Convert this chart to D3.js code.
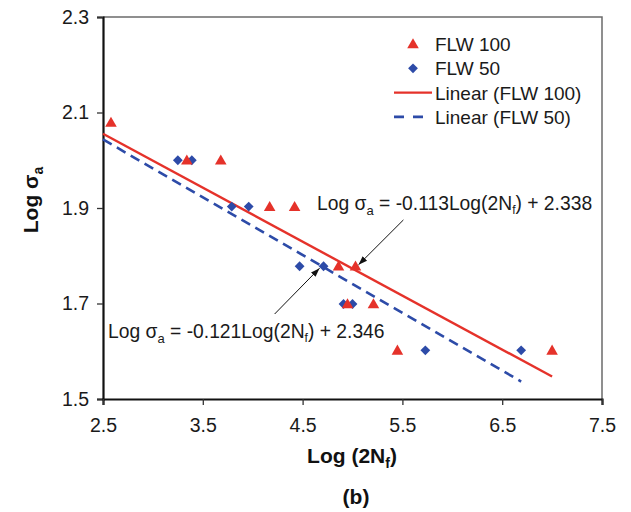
<!DOCTYPE html>
<html>
<head>
<meta charset="utf-8">
<script src="https://cdn.jsdelivr.net/npm/d3@7"></script>
<style>
    body { margin: 0; background: #fff; }
    svg  { display: block; font-family: "Liberation Sans", Arial, sans-serif; }
</style>
</head>
<body>
<div id="chart"></div>
<script>
/* --------------------------------------------------------- */
/* Data.                               */
/* --------------------------------------------------------- */
var flw100X = [2.58, 3.34, 3.68, 4.17, 4.42, 4.86, 5.03, 4.95, 5.21, 5.45, 7.00];
var flw100Y = [2.079, 2.000, 2.000, 1.903, 1.903, 1.778, 1.778, 1.699, 1.699, 1.602, 1.602];

var flw50X  = [3.25, 3.39, 3.79, 3.96, 4.47, 4.71, 4.91, 5.00, 5.73, 6.69];
var flw50Y  = [2.000, 2.000, 1.903, 1.903, 1.778, 1.778, 1.699, 1.699, 1.602, 1.602];

// Linear fits: [slope, intercept], drawn between [xStart, xEnd].
var fit100      = [-0.113, 2.338];
var fit50       = [-0.121, 2.346];
var fit100Range = [2.5, 7.0];
var fit50Range  = [2.5, 6.69];

var xTicks = [2.5, 3.5, 4.5, 5.5, 6.5, 7.5];
var yTicks = [1.5, 1.7, 1.9, 2.1, 2.3];

var legendLabels = ["FLW 100", "FLW 50", "Linear (FLW 100)", "Linear (FLW 50)"];

var red  = "#e5322a";
var blue = "#2d4ba8";

/* --------------------------------------------------------- */
/* Frame and scales.                                         */
/* --------------------------------------------------------- */
// Note: 'top' is a window property, so the frame uses its own names.
var W = 631, H = 512;
var plotL = 103, plotR = 602, plotT = 17, plotB = 399;

var svg = d3.select("#chart").append("svg")
            .attr("width", W)
            .attr("height", H);

var x = d3.scaleLinear().domain([2.5, 7.5]).range([plotL, plotR]);
var y = d3.scaleLinear().domain([1.5, 2.3]).range([plotB, plotT]);

// Top and right border (grey).
svg.append("path")
   .attr("d", "M" + plotL + "," + plotT + "H" + plotR + "V" + plotB)
   .attr("fill", "none")
   .attr("stroke", "#6b6b6b")
   .attr("stroke-width", 1.5);

// Axes.
var yAxis = svg.append("g")
   .attr("transform", "translate(" + plotL + ",0)")
   .call(d3.axisLeft(y).tickValues(yTicks).tickSize(6).tickPadding(8)
          .tickFormat(d3.format(".1f")));

var xAxis = svg.append("g")
   .attr("transform", "translate(0," + plotB + ")")
   .call(d3.axisBottom(x).tickValues(xTicks).tickSize(6).tickPadding(13)
          .tickFormat(d3.format(".1f")));

[xAxis, yAxis].forEach(function(g) {
    g.select(".domain").attr("stroke", "#111").attr("stroke-width", 2.2);
    g.selectAll(".tick line").attr("stroke", "#333").attr("stroke-width", 1.3);
    g.selectAll(".tick text")
     .attr("fill", "#1a1a1a")
     .style("font-size", "19.5px")
     .style("font-family", "'Liberation Sans', Arial, sans-serif");
});

/* --------------------------------------------------------- */
/* Trend lines.                                              */
/* --------------------------------------------------------- */
function fitPoints(fit, range) {
    return range.map(function(v) { return [v, fit[0] * v + fit[1]]; });
}
var line = d3.line()
             .x(function(d) { return x(d[0]); })
             .y(function(d) { return y(d[1]); });

svg.append("path")
   .attr("d", line(fitPoints(fit50, fit50Range)))
   .attr("fill", "none")
   .attr("stroke", blue)
   .attr("stroke-width", 2.6)
   .attr("stroke-dasharray", "10,6");

svg.append("path")
   .attr("d", line(fitPoints(fit100, fit100Range)))
   .attr("fill", "none")
   .attr("stroke", red)
   .attr("stroke-width", 2.4);

/* --------------------------------------------------------- */
/* Points.                                                   */
/* --------------------------------------------------------- */
var triangle = d3.symbol().type(d3.symbolTriangle).size(58);
var diamond  = d3.symbol().type(d3.symbolSquare).size(48);

svg.append("g").selectAll("path")
   .data(d3.zip(flw50X, flw50Y)).enter().append("path")
   .attr("d", diamond)
   .attr("transform", function(d) {
       return "translate(" + x(d[0]) + "," + y(d[1]) + ") rotate(45)";
   })
   .attr("fill", blue);

svg.append("g").selectAll("path")
   .data(d3.zip(flw100X, flw100Y)).enter().append("path")
   .attr("d", triangle)
   .attr("transform", function(d) {
       return "translate(" + x(d[0]) + "," + (y(d[1]) + 1) + ")";
   })
   .attr("fill", red);

/* --------------------------------------------------------- */
/* Legend.                                                   */
/* --------------------------------------------------------- */
var lg = svg.append("g").attr("transform", "translate(394,44)");
var rowH = 24.3;

lg.append("path").attr("d", triangle)
  .attr("transform", "translate(19,1)").attr("fill", red);
lg.append("path").attr("d", diamond)
  .attr("transform", "translate(19," + rowH + ") rotate(45)").attr("fill", blue);
lg.append("line")
  .attr("x1", 0).attr("x2", 38).attr("y1", rowH * 2).attr("y2", rowH * 2)
  .attr("stroke", red).attr("stroke-width", 2.4);
lg.append("line")
  .attr("x1", 0).attr("x2", 38).attr("y1", rowH * 3).attr("y2", rowH * 3)
  .attr("stroke", blue).attr("stroke-width", 2.6)
  .attr("stroke-dasharray", "10,9");

lg.selectAll("text.lab")
  .data(legendLabels).enter().append("text")
  .attr("class", "lab")
  .attr("x", 41)
  .attr("y", function(d, i) { return i * rowH + 7; })
  .attr("fill", "#1a1a1a")
  .style("font-size", "19px")
  .text(function(d) { return d; });

/* --------------------------------------------------------- */
/* Equations with arrows.                                    */
/* --------------------------------------------------------- */
svg.append("defs").append("marker")
   .attr("id", "arrow")
   .attr("viewBox", "0 0 10 10")
   .attr("refX", 10).attr("refY", 5)
   .attr("markerWidth", 9).attr("markerHeight", 9)
   .attr("orient", "auto")
   .append("path").attr("d", "M0,1.5L10,5L0,8.5z").attr("fill", "#111");

function equation(xPos, yPos, fit) {
    var t = svg.append("text")
               .attr("x", xPos).attr("y", yPos)
               .attr("fill", "#1a1a1a")
               .style("font-size", "19.3px");
    t.append("tspan").text("Log \u03c3");
    t.append("tspan").attr("dy", 5).style("font-size", "13px").text("a");
    t.append("tspan").attr("dy", -5)
     .text(" = " + fit[0].toFixed(3) + "Log(2N");
    t.append("tspan").attr("dy", 4).style("font-size", "12px").text("f");
    t.append("tspan").attr("dy", -4)
     .text(") + " + fit[1].toFixed(3));
}
equation(317, 210, fit100);
equation(108, 338, fit50);

function arrow(p0, p1) {
    svg.append("line")
       .attr("x1", x(p0[0])).attr("y1", y(p0[1]))
       .attr("x2", x(p1[0])).attr("y2", y(p1[1]))
       .attr("stroke", "#111").attr("stroke-width", 1)
       .attr("marker-end", "url(#arrow)");
}
arrow([5.51, 1.875], [5.06, 1.781]);
arrow([4.22, 1.678], [4.67, 1.774]);

/* --------------------------------------------------------- */
/* Axis titles and panel label.                              */
/* --------------------------------------------------------- */
var xt = svg.append("text")
   .attr("x", 352).attr("y", 463)
   .attr("text-anchor", "middle")
   .attr("fill", "#111")
   .style("font-size", "21px").style("font-weight", "bold");
xt.append("tspan").text("Log (2N");
xt.append("tspan").attr("dy", 5).style("font-size", "14px").text("f");
xt.append("tspan").attr("dy", -5).text(")");

var yt = svg.append("text")
   .attr("transform", "translate(38,200) rotate(-90)")
   .attr("text-anchor", "middle")
   .attr("fill", "#111")
   .style("font-size", "21px").style("font-weight", "bold");
yt.append("tspan").text("Log \u03c3");
yt.append("tspan").attr("dy", 5).style("font-size", "14px").text("a");

svg.append("text")
   .attr("x", 356).attr("y", 504)
   .attr("text-anchor", "middle")
   .attr("fill", "#111")
   .style("font-size", "21px").style("font-weight", "bold")
   .text("(b)");
</script>
</body>
</html>
